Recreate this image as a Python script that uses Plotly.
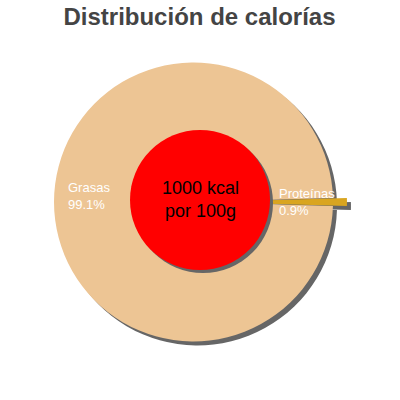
import plotly.graph_objects as go

# data
labels = ["Grasas", "Proteínas"]
values = [99.1, 0.9]
pct_text = ["99.1%", "0.9%"]
colors = ["#EDC594", "#D9A520"]
pulls = [0, 0.1]
centre_text = "1000 kcal<br>por 100g"

W = H = 400
SHADOW = "#666666"


def dom(cx, cy, half, dx=0, dy=0):
    # pixel box -> paper domain (no margins)
    cx, cy = cx + dx, cy + dy
    return dict(x=[(cx - half) / W, (cx + half) / W],
                y=[1 - (cy + half) / H, 1 - (cy - half) / H])


def px(x, y):
    return x / W, 1 - y / H


# outer pie: centre (193.5, 202), radius ~139.5, pull 0.1
half_out = 139.5 * (1 + max(pulls))
rot = 90 + 360 * values[-1] / sum(values) / 2

fig = go.Figure()

# shadow of outer pie
fig.add_trace(go.Pie(labels=labels, values=values, sort=False, direction="clockwise",
                     rotation=rot, pull=pulls, marker=dict(colors=[SHADOW, SHADOW]),
                     textinfo="none", hoverinfo="skip", showlegend=False,
                     domain=dom(193.5, 202, half_out, 4, 4)))
fig.add_trace(go.Pie(labels=labels, values=values, sort=False, direction="clockwise",
                     rotation=rot, pull=pulls, marker=dict(colors=colors),
                     textinfo="none", showlegend=False,
                     domain=dom(193.5, 202, half_out)))

# inner red disc + shadow
fig.add_trace(go.Pie(values=[1], marker=dict(colors=[SHADOW]), textinfo="none",
                     hoverinfo="skip", showlegend=False, domain=dom(200, 200, 70, 3, 3)))
fig.add_trace(go.Pie(values=[1], marker=dict(colors=["#FF0000"]), textinfo="none",
                     hoverinfo="skip", showlegend=False, domain=dom(200, 200, 70)))

# centre text
cx, cy = px(200, 199)
fig.add_annotation(x=cx, y=cy, xref="paper", yref="paper", text=centre_text,
                   showarrow=False, xanchor="center", yanchor="middle",
                   font=dict(family="Liberation Sans, Arial", size=18, color="black"))

# slice labels
label_pos = [(66, 196), (277, 201.5)]
for (x, y), lab, pc in zip(label_pos, labels, pct_text):
    ax, ay = px(x, y)
    fig.add_annotation(x=ax, y=ay, xref="paper", yref="paper", text=lab + "<br>" + pc,
                       showarrow=False, xanchor="left", yanchor="middle", align="left",
                       font=dict(family="Liberation Sans, Arial", size=13, color="white"))

tx, ty = px(199.5, 17)
fig.update_layout(
    title=dict(text="<b>Distribución de calorías</b>", x=tx, xanchor="center",
               y=ty, yanchor="middle",
               font=dict(family="Liberation Sans, Arial", size=24, color="#444444")),
    width=W, height=H,
    margin=dict(l=0, r=0, t=0, b=0),
    paper_bgcolor="white",
)

# drop the default 8px body margin so the figure sits at the page corner
fig.write_html("out.html", config={"displayModeBar": False},
               post_script="document.body.style.margin = '0';")
